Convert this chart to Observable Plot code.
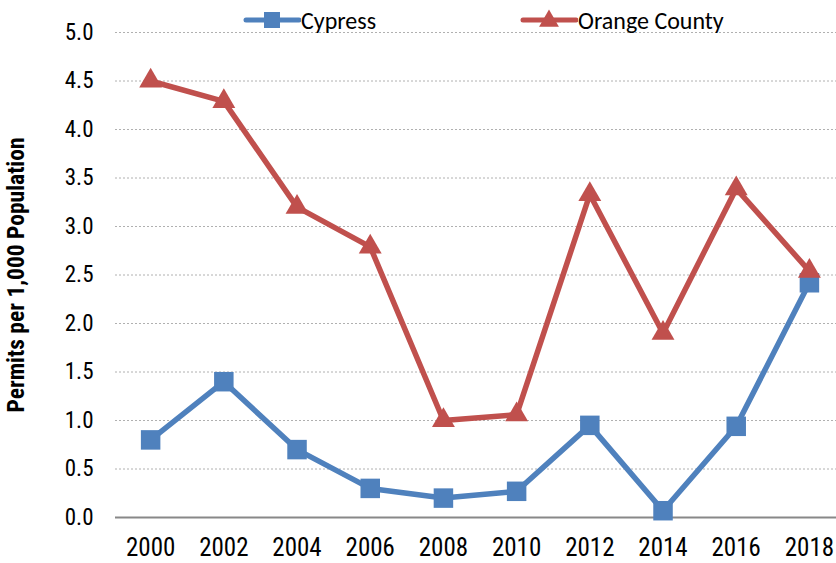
<!DOCTYPE html>
<html><head><meta charset="utf-8">
<script src="https://cdn.jsdelivr.net/npm/d3@7"></script>
<script src="https://cdn.jsdelivr.net/npm/@observablehq/plot@0.6"></script>
<style>
body{margin:0;background:#fff;}
#wrap{position:relative;width:836px;height:563px;}
#legend{position:absolute;left:0;top:8px;height:24px;width:836px;display:flex;align-items:center;padding-left:243px;box-sizing:border-box;font-family:Carlito,Lato,sans-serif;font-size:24px;color:#000;z-index:2;}
.item{display:flex;align-items:center;}
.item + .item{margin-left:144px;}
#chart svg{display:block;}
</style>
</head><body>
<div id="wrap">
<div id="legend"></div>
<div id="chart"></div>
</div>
<script>
const years = [2000, 2002, 2004, 2006, 2008, 2010, 2012, 2014, 2016, 2018];
const cypress = [0.80, 1.40, 0.70, 0.30, 0.20, 0.27, 0.95, 0.07, 0.94, 2.42];
const orangeCounty = [4.50, 4.29, 3.20, 2.79, 1.00, 1.06, 3.33, 1.90, 3.39, 2.54];
const seriesNames = ["Cypress", "Orange County"];
const seriesColors = ["#4F81BD", "#C0504D"];
const seriesSymbols = ["square", "triangle"];
const yTicks = [0, 0.5, 1, 1.5, 2, 2.5, 3, 3.5, 4, 4.5, 5];
const xTicks = years;
const yLabel = "Permits per 1,000 Population";

const seriesValues = [cypress, orangeCounty];
const data = seriesNames.flatMap((s, k) => years.map((yr, i) => ({year: yr, value: seriesValues[k][i], series: s})));

// legend
const legend = d3.select("#legend");
seriesNames.forEach((s, k) => {
  const it = legend.append("div").attr("class", "item");
  const svg = it.append("svg").attr("width", 58).attr("height", 22);
  svg.append("line").attr("x1", 3).attr("x2", 56).attr("y1", 11).attr("y2", 11)
    .attr("stroke", seriesColors[k]).attr("stroke-width", 5).attr("stroke-linecap", "round");
  const sq = seriesSymbols[k] === "square";
  svg.append("path").attr("d", d3.symbol(sq ? d3.symbolSquare : d3.symbolTriangle, sq ? 256 : 170)())
    .attr("transform", `translate(29,${sq ? 11 : 12})`).attr("fill", seriesColors[k]);
  it.append("span").text(s);
});

const fontNarrow = "'Roboto Condensed','Liberation Sans',Arial,sans-serif";

const marks = [
  Plot.gridY(yTicks.filter(d => d > 0), {stroke: "#b0b0b0", strokeOpacity: 1, strokeDasharray: "2,2", strokeWidth: 1}),
  Plot.ruleY([0], {stroke: "#888", strokeWidth: 2}),
  Plot.axisY(yTicks, {tickSize: 0, tickPadding: 22, tickFormat: d3.format(".1f"), fontSize: 23,
    label: yLabel, labelAnchor: "center", labelArrow: "none", labelOffset: 108}),
  Plot.axisX(xTicks, {tickSize: 0, tickPadding: 21, tickFormat: d => String(d), fontSize: 25, label: null})
];
seriesNames.forEach((s, k) => {
  const d = data.filter(r => r.series === s);
  marks.push(Plot.line(d, {x: "year", y: "value", stroke: seriesColors[k], strokeWidth: 5.5, strokeLinejoin: "round"}));
  marks.push(Plot.dot(d, {x: "year", y: "value", fill: seriesColors[k], symbol: seriesSymbols[k], r: seriesSymbols[k] === "square" ? 11 : 8.5, stroke: "none"}));
});

const plot = Plot.plot({
  width: 836,
  height: 563,
  marginTop: 32,
  marginBottom: 46,
  marginLeft: 115,
  marginRight: 0,
  style: {fontFamily: fontNarrow, fontSize: "23px", color: "#000", background: "transparent", overflow: "visible"},
  x: {type: "linear", domain: [1999.04, 2018.74]},
  y: {domain: [0, 5]},
  marks
});
d3.select(plot).selectAll("[aria-label='y-axis label'], [aria-label='y-axis label'] text").style("font-weight", "bold").style("font-size", "23.5px");
document.getElementById("chart").appendChild(plot);
</script>
</body></html>
